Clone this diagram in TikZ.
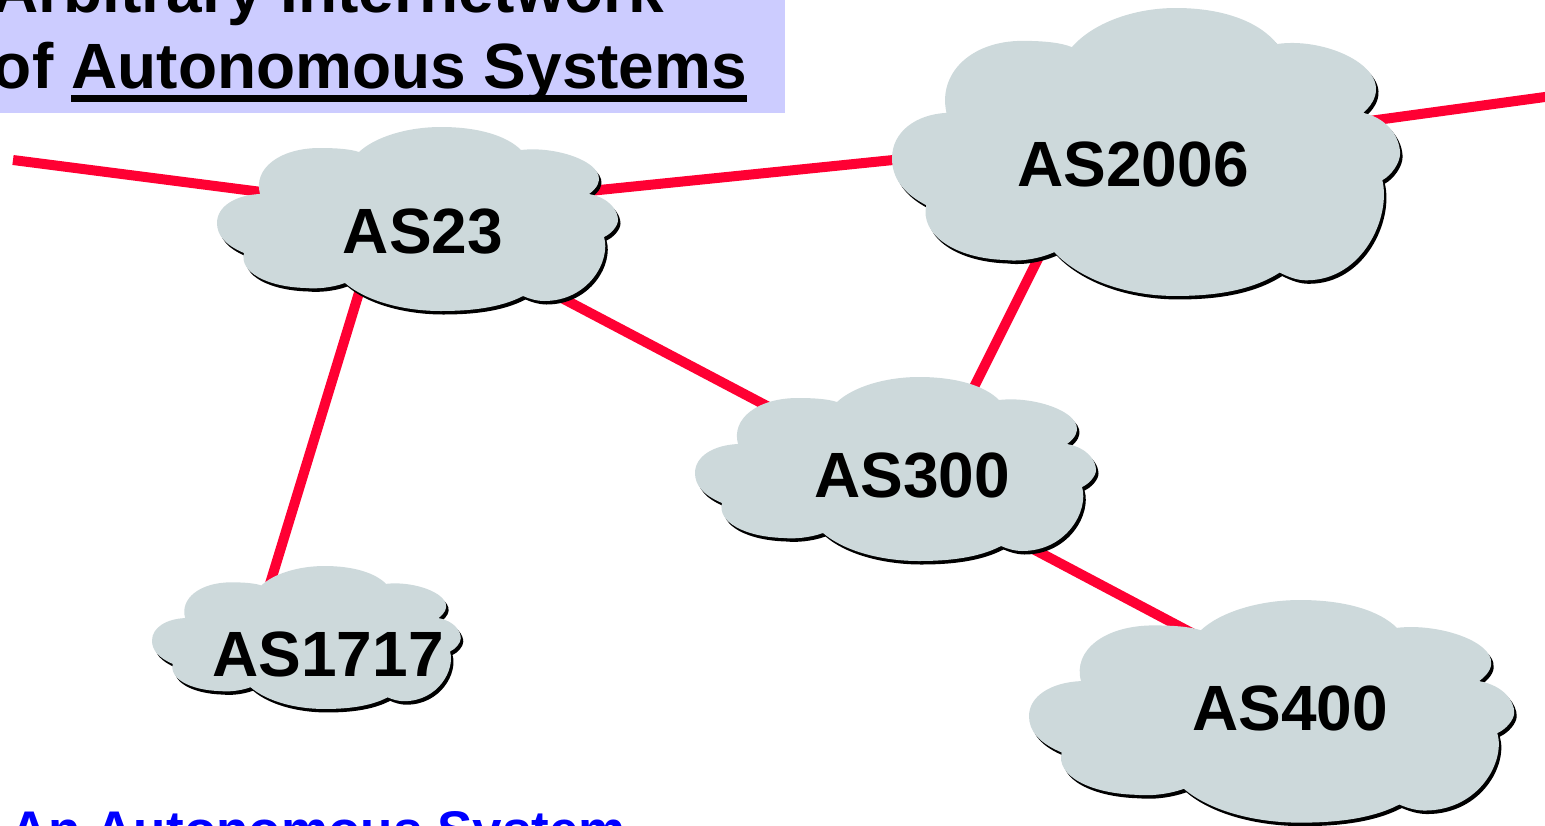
\documentclass[tikz,border=0pt]{standalone}
\usepackage{fontspec}
\setmainfont{Liberation Sans}
\usetikzlibrary{calc,backgrounds}
\definecolor{cloudgray}{HTML}{CDD9DB}
\definecolor{linkred}{HTML}{FF0033}
\definecolor{titleblue}{HTML}{CCCCFF}
\tikzset{
    asname/.style={font=\fontsize{32}{36}\selectfont\bfseries, inner sep=0pt},
    titletext/.style={font=\fontsize{32}{36}\selectfont\bfseries, inner sep=0pt, anchor=base west},
    link/.style={linkred, line width=5pt},
}
\newcommand{\cloudpath}{
    (43,67) .. controls (36,42) and (62,21) .. (103,21)
    .. controls (119,21) and (133,22) .. (142,25)
    .. controls (158,10) and (190,0) .. (224,0)
    .. controls (262,0) and (290,9) .. (304,23)
    .. controls (346,18) and (406,42) .. (372,67)
    .. controls (393,71) and (401,84) .. (401,93)
    .. controls (401,99) and (394,107) .. (387,110)
    .. controls (394,133) and (372,174) .. (327,174)
    .. controls (320,174) and (313,172) .. (306,169)
    .. controls (283,181) and (253,184) .. (224,184)
    .. controls (186,184) and (149,174) .. (128,156)
    .. controls (114,161) and (99,162) .. (89,161)
    .. controls (50,160) and (22,145) .. (27,126)
    .. controls (8,118) and (0,108) .. (0,96)
    .. controls (0,79) and (19,68) .. (43,67) -- cycle
}
\newcommand{\ascloud}[4]{
    \begin{scope}[shift={(#1,#2)},xscale=#3,yscale=#4]
        \fill[black,shift={({2.5/#3},{3.5/#4})}] \cloudpath;
        \fill[cloudgray] \cloudpath;
    \end{scope}
}
\begin{document}
\begin{tikzpicture}[x=0.5pt,y=-0.5pt]
    \useasboundingbox (0,0) rectangle (1545,825);

    \node[asname] (as23) at (423,232) {AS23};
    \node[asname] (as2006) at (1133,164) {AS2006};
    \node[asname] (as300) at (912,476) {AS300};
    \node[asname] (as1717) at (328,654) {AS1717};
    \node[asname] (as400) at (1290,708) {AS400};

    \coordinate (peer_w) at (13,160);
    \coordinate (peer_e) at (1550,96.3);

    \node[titletext] (title_a) at (-8,12) {Arbitrary Internetwork};
    \node[titletext] (title_b) at (-7.5,88) {of};
    \node[titletext] (title_c) at (71,88) {Autonomous Systems};
    \coordinate (rule_l) at (71,98.5);
    \coordinate (rule_r) at (747,98.5);
    \draw[line width=3.3pt] (rule_l) -- (rule_r);
    \node[font=\fontsize{26.5}{30}\selectfont\bfseries, inner sep=0pt, anchor=base west, blue] (as_text) at (10,848) {An Autonomous System};

    \begin{scope}[on background layer]
        \fill[titleblue] (0,0) rectangle (785,113);

        \draw[link] (peer_w) -- ([shift={(-103,-32.5)}]as23.center);
        \draw[link] ([shift={(137,-38)}]as23.center) -- ([shift={(-183,-9.8)}]as2006.center);
        \draw[link] ([shift={(-54,28)}]as23.center) -- ([shift={(-63,-54)}]as1717.center);
        \draw[link] ([shift={(97,44)}]as23.center) -- ([shift={(-112,-52.6)}]as300.center);
        \draw[link] ([shift={(-75.5,56)}]as2006.center) -- ([shift={(45.5,-56)}]as300.center);
        \draw[link] ([shift={(207,-39)}]as2006.center) -- (peer_e);
        \draw[link] ([shift={(88,55.5)}]as300.center) -- ([shift={(-50,-49.5)}]as400.center);

        \ascloud{217}{127}{1}{1}
        \ascloud{892}{8}{1.267}{1.565}
        \ascloud{695}{377}{1}{1}
        \ascloud{152}{566}{0.77}{0.777}
        \ascloud{1029}{600}{1.21}{1.21}
    \end{scope}
\end{tikzpicture}
\end{document}
